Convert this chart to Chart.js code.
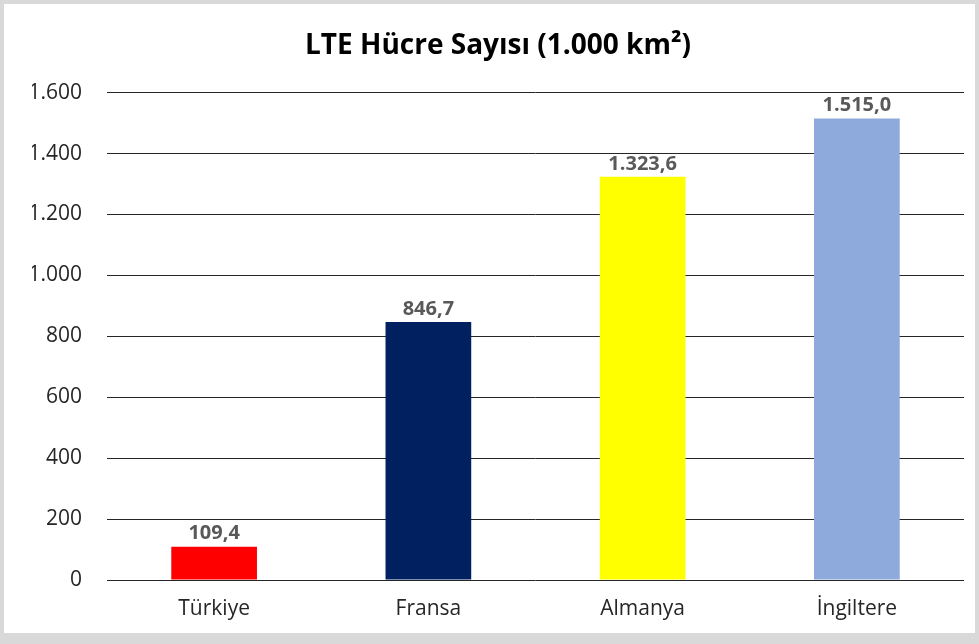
<!DOCTYPE html>
<html>
<head>
<meta charset="utf-8">
<script src="https://cdn.jsdelivr.net/npm/chart.js@4"></script>
<style>
  html, body { margin: 0; padding: 0; background: #d9d9d9; }
  #frame { position: absolute; left: 4px; top: 4px; width: 971px; height: 629px; background: #fff; }
  #wrap { position: absolute; left: 0; top: 0; width: 979px; height: 644px; }
</style>
</head>
<body>
<div id="frame"></div>
<div id="wrap"><canvas id="chart"></canvas></div>
<script>
// veriler
const countries = ["Türkiye", "Fransa", "Almanya", "İngiltere"];
const cellCounts = [109.4, 846.7, 1323.6, 1515.0];
const barColors = ["#FF0000", "#002060", "#FFFF00", "#8EA9DB"];
const chartTitle = "LTE Hücre Sayısı (1.000 km²)";

const fontName = "'Open Sans', 'Noto Sans', sans-serif";

// binlik ayırıcı nokta, ondalık virgül
function formatNumber(v, decimals) {
    const parts = v.toFixed(decimals).split(".");
    parts[0] = parts[0].replace(/\B(?=(\d{3})+(?!\d))/g, ".");
    return parts.join(",");
}

const valueLabels = {
    id: "valueLabels",
    afterDatasetsDraw(chart) {
        const ctx = chart.ctx;
        const meta = chart.getDatasetMeta(0);
        ctx.save();
        ctx.font = "bold 20px " + fontName;
        ctx.fillStyle = "#595959";
        ctx.textAlign = "center";
        ctx.textBaseline = "bottom";
        meta.data.forEach((bar, i) => {
            ctx.fillText(formatNumber(cellCounts[i], 1), bar.x, bar.y - 3);
        });
        ctx.restore();
    }
};

new Chart(document.getElementById("chart"), {
    type: "bar",
    data: {
        labels: countries,
        datasets: [{
            data: cellCounts,
            backgroundColor: barColors,
            categoryPercentage: 1,
            barPercentage: 0.4
        }]
    },
    options: {
        responsive: true,
        maintainAspectRatio: false,
        animation: false,
        layout: { padding: { left: 32, right: 15, top: 29, bottom: 0 } },
        plugins: {
            legend: { display: false },
            tooltip: { enabled: false },
            title: {
                display: true,
                text: chartTitle,
                color: "#000",
                font: { family: fontName, size: 28, weight: "bold" },
                padding: { top: 0, bottom: 30 }
            }
        },
        scales: {
            x: {
                grid: { display: false, drawTicks: false },
                border: { display: false },
                ticks: {
                    color: "#262626",
                    padding: 16,
                    font: { family: fontName, size: 21 }
                },
                afterFit(scale) { scale.height = 64; }
            },
            y: {
                min: 0,
                max: 1600,
                grid: { color: "#262626", lineWidth: 1, drawTicks: false },
                border: { display: false },
                ticks: {
                    stepSize: 200,
                    color: "#262626",
                    padding: 25,
                    font: { family: fontName, size: 21 },
                    callback: v => formatNumber(v, 0)
                },
                afterFit(scale) { scale.width = 75; }
            }
        }
    },
    plugins: [valueLabels]
});
</script>
</body>
</html>
